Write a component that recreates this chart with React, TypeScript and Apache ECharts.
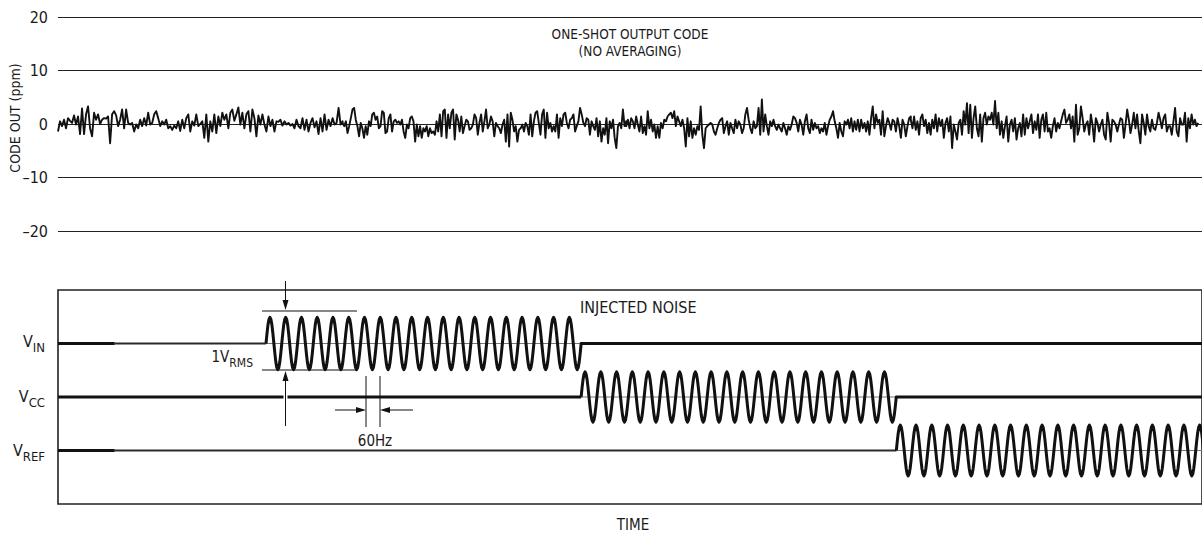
import React, { useEffect, useRef } from 'react';
import * as echarts from 'echarts';

const FONT = "'Liberation Sans Narrow', 'DejaVu Sans Condensed', 'Arial Narrow', sans-serif";
const INK = '#111';

// ---------- top panel: one-shot output code (ppm) ----------
const yTicks = [-20, -10, 0, 10, 20];
const timeMaxMs = 1210;
const noiseSegmentMs = [0, 301, 601, 902, 1206];
const noiseSeg1 = [
  -1.4, 0.5, -0.4, 0.8, -0.8, 1.1, 0.6, 0.2, 1.6, -0.1, 1.4, -1.9, 2.9, -1.9, 1.8, 3.3, -0.8, -2.3, 2.1, 0.8,
  1.8, 0, 0.8, 1.1, 1.0, 1.4, -3.6, 1.8, 2.4, 1.6, -0.4, 0.8, 2.7, -0.8, 2.7, 0.2, -0.1, 0.2, -1.4, -0.1,
  -0.8, 0.8, -0.4, 1.1, -0.3, 2.1, -0.1, 0.2, 1.8, 2.4, 1.1, -0.4, 0.5, -0.1, 0.8, -0.8, -0.4, -1.1, -0.3, -0.8,
  0.5, -1.3, 0.8, -0.8, 1.1, 1.8, -1.4, 0.5, -0.3, 1.8, -0.4, 0, 0.5, -2.6, 1.8, -3.3, 0.5, -1.4, 1.8, -1.7,
  1.4, -0.4, 2.1, 0.8, 1.8, -0.8, 2.1, 2.7, 0.6, 1.8, 3.1, -0.1, 2.1, -0.8, 1.8, 2.4, -1.4, 2.7, 1.1, -2.3,
  1.6, -0.1, 1.8, -0.1, -1.4, 1.4, -0.4, 0.8, -1.4, 0.5, 0.4, 0.8, -0.3, 0.5, -0.1, 0.2, -0.3, 0, -0.8, 0.8,
  -0.4, -0.8, 1.1, -1.1, 0.8, -1.4, 0.2, 1.1, -0.6, 0.5, -1.9, 1.1, -1.4, 1.8, -1.1, 0.8, -0.4, 1.1, -0.1, 0.2,
  3.0, -0.1, 0.5,
];
const noiseSeg2 = [
  0.2, -0.4, 0.5, -1.7, -0.4, 1.1, 2.7, 3.0, 0.8, -0.4, -2.3, 0.2, -0.8, -2.6, -0.4, -2.0, 0.5, -0.4, 1.8, 2.1,
  0.8, 1.4, -0.8, -0.4, 2.4, 2.1, -1.7, -1.4, 1.1, 1.8, -1.4, 0.5, 0.8, 0.2, 0.5, -0.1, 0.8, -1.4, -2.6, -0.1,
  -0.8, 1.1, 1.4, 0.5, -3.3, -0.1, -2.3, -0.4, -2.6, -0.8, -1.4, -0.4, -2.3, -0.8, -1.7, -1.4, -2.0, 0.5, -1.4, 1.8,
  -2.3, 2.4, 2.7, -2.6, 1.8, -0.8, 2.1, 2.7, -2.9, 1.8, 0.8, -1.4, 1.4, -1.7, -0.4, 0.8, 0.5, -1.1, -0.8, -0.1,
  1.8, 1.1, -2.0, 0.2, 1.8, -1.4, 0.5, 2.7, -0.8, -0.1, 1.4, 0.5, -2.3, 0.2, -0.4, -0.8, -1.7, -0.1, 0.8, -3.3,
  1.8, -4.2, 2.1, 0.8, -1.4, -0.4, -3.3, -1.1, -0.8, -0.1, -1.4, 0.2, -0.4, -2.0, 1.8, -2.3, 0.5, 2.1, 2.4, 0.2,
  -2.0, 1.8, 2.7, -2.6, 2.1, -0.8, 0.2, -1.4, -0.4, -1.4, 1.8, -2.6, 1.1, -0.4, 1.8, 2.1, 0.2, -0.8, 0.8, 1.1,
  1.8, -1.4, -0.4, 0.5, 3.0, 1.8, 0.2, -0.4, 1.1, 0.8, -2.0, 0.5, -0.4, -1.1, 1.1, -2.3, 0.5, -3.3, -0.8, -2.0,
  1.1, -3.6, 0.5, -0.8, 0.8, -2.6, -4.5, -0.4, 0.2, -0.8, 2.7, -0.4, 0.5,
];
const noiseSeg3 = [
  -0.4, 0.8, -0.8, 1.1, 0.5, -0.8, 1.4, -0.1, -1.4, 1.4, -1.7, -0.4, -2.0, 2.4, -0.8, 0.8, -1.4, -0.1, -2.6, -0.4,
  -2.6, 0.2, -0.8, 0.8, 0.5, 1.4, 1.8, 2.1, 1.1, 2.4, -0.4, 1.4, 0.5, -0.4, 0.8, -0.8, -4.2, 1.1, -2.3, 0.5,
  -2.6, -0.8, -2.0, -0.4, -1.1, 3.3, -2.0, -4.5, -0.8, -0.4, -0.1, 0.2, -0.1, -1.4, -2.0, -0.8, 0.2, 0.8, 1.1, -1.7,
  -0.4, 0.5, -2.0, 0.2, -0.8, -1.7, 0.8, -0.8, 0.5, -0.1, -1.7, -0.8, 1.8, 3.0, 0.8, -0.8, -1.7, 0.5, -0.8, -0.4,
  3.0, -2.0, 4.6, -1.4, 1.8, -0.4, -2.0, 0.5, -0.4, 0.8, -0.4, -1.1, -0.1, -0.8, -1.4, 0.2, -0.8, -2.0, -0.4, -1.1,
  -0.1, 1.4, 1.1, 0.2, -1.4, 0.8, -0.1, -2.0, 0.5, 1.8, -0.8, -1.7, 0.8, -1.1, 0.2, -0.8, -0.4, -1.7, -0.8, -1.4,
  0.2, -2.0, -0.4, 0.8, 1.4, 2.4, 0.5, -0.8, -2.6, 0.2, -1.4, -2.3, 0.5, -0.1, 0.8, -0.8, 1.1, -1.4, 0.5, -1.1,
  0.8, -1.4, 0.8, -0.8, 0.2, -1.4, 0.5, -2.0, 1.1, 3.3, -0.8, 1.8, 0.2, 0.8, -2.0, 2.4, -2.3, -0.4, 1.1, 0.2,
  -1.1, 0.8, 0.5, -1.4, 1.1, -0.4, -2.6, 0.8, -0.1, -2.3, -0.4, 1.1, 1.4,
];
const noiseSeg4 = [
  0.8, -0.8, 1.4, -1.1, 0.5, -2.0, 1.1, 1.8, -0.4, 0.8, -1.7, 0.2, -2.0, 0.8, -0.8, 1.8, -1.4, 1.1, -0.4, 0.8,
  -2.6, 0.2, 1.1, -1.4, 1.4, -4.5, -0.1, -1.4, -2.9, 0.2, 0.8, -2.0, 2.4, -0.1, 3.9, -1.7, 3.6, -2.6, 1.1, 3.3,
  -0.8, -2.3, 1.8, -3.3, 1.1, 2.1, -0.1, 1.4, 0.8, 2.1, -0.1, 4.3, -0.8, 2.1, -2.0, 0.5, -2.6, -0.4, 1.4, -3.3,
  -0.1, 0.8, -1.4, 1.1, -2.9, -0.8, 0.2, -2.3, 1.8, -2.0, 1.1, -0.8, 0.5, 1.8, -1.7, 0.5, -1.1, 1.8, -2.6, 0.8,
  1.8, -1.4, 2.1, -1.4, -0.8, -2.6, -0.4, 1.1, -1.4, 0.2, -0.8, 0.5, 1.8, 2.7, 0.2, 0.8, 1.8, -0.8, 1.4, -3.3,
  3.6, -2.0, -0.8, 3.3, 1.1, -1.4, -0.1, 0.5, -2.0, 1.8, -0.1, -3.3, 1.1, 0.2, -1.4, -0.1, 0.8, -2.0, -2.9, 2.1,
  0.2, -3.3, 0.8, 0.5, -0.1, -1.4, -0.1, 1.1, 0.8, -2.6, -0.1, 2.7, 0.8, -1.7, -0.1, 2.1, -0.8, 1.8, -1.4, -3.6,
  1.8, 0.2, -2.0, 1.8, -0.4, -1.4, 0.8, -0.8, -1.1, 0.2, 2.1, 0.8, -0.8, 1.1, 1.8, -1.4, -0.4, -0.4, -2.0, 0.5,
  3.0, -1.4, -2.3, 1.1, -0.1, -0.1, 2.1, -3.3, 1.1, -0.8, 1.8, -0.1, 0.8, -0.4, 0.2,
];
const noiseSegments = [noiseSeg1, noiseSeg2, noiseSeg3, noiseSeg4];

// ---------- bottom panel: injected 60Hz noise ----------
const channelMain = ['V', 'V', 'V'];
const channelSub = ['IN', 'CC', 'REF'];
const channelLevel = [3, 2, 1];
const leadThickEndMs = [60, 553.3, 60];
const burstStartMs = [220, 553.3, 886.7];
const burstCycles = [20, 20, 20];
const burstAmplitude = [0.49, 0.47, 0.475];
const noiseFreqHz = 60;
// one cycle of the injected sine, sampled at 16 phases
const cycleShape = [0, 0.38, 0.71, 0.92, 1, 0.92, 0.71, 0.38, 0, -0.38, -0.71, -0.92, -1, -0.92, -0.71, -0.38];

function noiseData() {
  const out: number[][] = [];
  noiseSegments.forEach((seg, s) => {
    const a = noiseSegmentMs[s];
    const b = noiseSegmentMs[s + 1];
    seg.forEach((v, i) => out.push([a + (i / (seg.length - 1)) * (b - a), v]));
  });
  return out;
}

function measure(text: string, size: number) {
  const c = document.createElement('canvas').getContext('2d')!;
  c.font = `${size}px ${FONT}`;
  return c.measureText(text).width;
}

const base = { type: 'line', symbol: 'none', silent: true, xAxisIndex: 1, yAxisIndex: 1, animation: false };

function bottomSeries() {
  const out: any[] = [];
  const period = 1000 / noiseFreqHz;
  channelLevel.forEach((L, i) => {
    const start = burstStartMs[i];
    const end = start + burstCycles[i] * period;
    out.push({ ...base, z: 3, data: [[0, L], [leadThickEndMs[i], L]], lineStyle: { color: INK, width: 3 } });
    if (leadThickEndMs[i] < start) {
      out.push({ ...base, z: 3, data: [[leadThickEndMs[i], L], [start, L]], lineStyle: { color: '#2a2a2a', width: 2.2 } });
    }
    out.push({ ...base, z: 2, data: [[start, L], [Math.min(end, timeMaxMs), L]], lineStyle: { color: '#777', width: 1 } });
    const wave: number[][] = [];
    for (let c = 0; c < burstCycles[i]; c++) {
      cycleShape.forEach((s, k) => {
        wave.push([start + (c + k / cycleShape.length) * period, L + burstAmplitude[i] * s]);
      });
    }
    wave.push([end, L]);
    if (end < timeMaxMs) wave.push([timeMaxMs, L]);
    out.push({ ...base, z: 4, data: wave, lineStyle: { color: INK, width: 3, join: 'round' } });
  });
  return out;
}

function txt(text: string, x: number, y: number, size: number, align = 'center', extra: any = {}) {
  return {
    type: 'text', x, y, z: 100, silent: true,
    style: { text, fontSize: size, fontFamily: FONT, fill: '#1a1a1a', align, verticalAlign: 'middle' },
    ...extra,
  };
}
function ln(x1: number, y1: number, x2: number, y2: number, w = 1) {
  return { type: 'line', z: 100, silent: true, shape: { x1, y1, x2, y2 }, style: { stroke: INK, lineWidth: w } };
}
function head(points: number[][]) {
  return { type: 'polygon', z: 100, silent: true, shape: { points }, style: { fill: INK } };
}

function graphics() {
  const g: any[] = [];
  g.push(txt('ONE-SHOT OUTPUT CODE', 630, 34, 13.5));
  g.push(txt('(NO AVERAGING)', 630, 51, 13.5));
  g.push(txt('CODE OUT (ppm)', 15, 118, 14, 'center', { rotation: Math.PI / 2 }));
  // channel labels with subscripts
  const labelY = [341, 396, 450];
  channelSub.forEach((sub, i) => {
    const right = 45;
    const w = measure(sub, 13);
    g.push(txt(channelMain[i], right - w, labelY[i], 16, 'right'));
    g.push(txt(sub, right - w, labelY[i] + 6, 13, 'left'));
  });
  // 1 V RMS label
  const rw = measure('RMS', 12);
  g.push(txt('1V', 253 - rw, 357, 15, 'right'));
  g.push(txt('RMS', 253 - rw, 363, 12, 'left'));
  g.push(txt('INJECTED NOISE', 580, 307, 16, 'left'));
  g.push(txt('60Hz', 375, 441, 15));
  g.push(txt('TIME', 633, 525, 15));
  // amplitude dimension
  g.push(ln(262, 311, 357, 311));
  g.push(ln(262, 370, 357, 370));
  g.push(ln(285.5, 281, 285.5, 302));
  g.push(head([[285.5, 310], [282.5, 300], [288.5, 300]]));
  g.push({ type: 'rect', z: 99, silent: true, shape: { x: 283.5, y: 394, width: 4, height: 6 }, style: { fill: '#fff' } });
  g.push(ln(285.5, 380, 285.5, 426));
  g.push(head([[285.5, 371], [282.5, 381], [288.5, 381]]));
  // period dimension
  g.push(ln(366, 376, 366, 427));
  g.push(ln(380, 376, 380, 427));
  g.push(ln(335, 410, 358, 410));
  g.push(head([[366, 410], [356, 407], [356, 413]]));
  g.push(ln(388, 410, 413, 410));
  g.push(head([[380, 410], [390, 407], [390, 413]]));
  return g;
}

export default function App() {
  const ref = useRef<HTMLDivElement>(null);
  useEffect(() => {
    document.body.style.margin = '0';
    const chart = echarts.init(ref.current!, undefined, { renderer: 'svg' });
    chart.setOption({
      animation: false,
      backgroundColor: '#fff',
      grid: [
        { left: 58, right: -3, top: 17, height: 214 },
        { left: 58, right: -3, top: 290, height: 214, show: true, borderColor: '#222', borderWidth: 1.6 },
      ],
      xAxis: [
        { gridIndex: 0, type: 'value', min: 0, max: timeMaxMs, show: false },
        { gridIndex: 1, type: 'value', min: 0, max: timeMaxMs, show: false },
      ],
      yAxis: [
        {
          gridIndex: 0, type: 'value', min: yTicks[0], max: yTicks[yTicks.length - 1], interval: 10,
          axisLine: { show: false }, axisTick: { show: false },
          splitLine: { show: true, lineStyle: { color: '#222', width: 1 } },
          axisLabel: {
            margin: 10, fontSize: 16, fontFamily: FONT, color: '#1a1a1a',
            formatter: (v: number) => (v < 0 ? '\u2013' + Math.abs(v) : String(v)),
          },
        },
        { gridIndex: 1, type: 'value', min: 0, max: 4, show: false },
      ],
      series: [
        {
          type: 'line', symbol: 'none', silent: true, xAxisIndex: 0, yAxisIndex: 0, z: 5,
          data: noiseData(), lineStyle: { color: INK, width: 1.9, join: 'round' },
        },
        ...bottomSeries(),
      ],
      graphic: graphics(),
    });
    return () => chart.dispose();
  }, []);
  return <div ref={ref} style={{ width: 1202, height: 533 }} />;
}
